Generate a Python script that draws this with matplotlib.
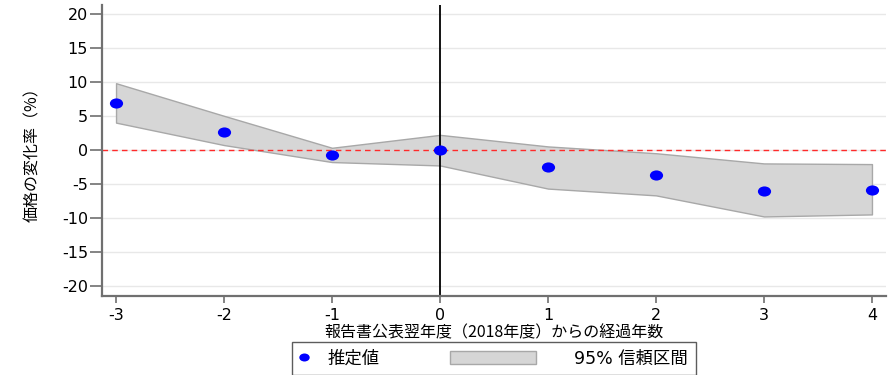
import matplotlib
matplotlib.use("Agg")
import matplotlib.pyplot as plt
import numpy as np
from matplotlib.patches import Patch, Rectangle
from matplotlib.lines import Line2D
from matplotlib.path import Path
from matplotlib.legend_handler import HandlerPatch

plt.rcParams['font.family'] = ['DejaVu Sans', 'Noto Sans CJK JP']

years = [-3, -2, -1, 0, 1, 2, 3, 4]
estimate = [6.9, 2.6, -0.7, 0.0, -2.6, -3.7, -6.0, -5.9]
ci_upper = [9.8, 5.0, 0.3, 2.2, 0.5, -0.5, -2.0, -2.1]
ci_lower = [4.0, 0.7, -1.8, -2.3, -5.7, -6.7, -9.8, -9.5]
yticks = [20, 15, 10, 5, 0, -5, -10, -15, -20]
xticks = [-3, -2, -1, 0, 1, 2, 3, 4]
legend_labels = ['推定値', '95% 信頼区間']
xlabel = '報告書公表翌年度（2018年度）からの経過年数'
ylabel = '価格の変化率（%）'

# slightly wide elliptical marker (reference dots are wider than tall)
circ = Path.unit_circle()
ell = Path(circ.vertices * np.array([1.3, 1.0]), circ.codes)

fig = plt.figure(figsize=(8.96, 3.75), dpi=100)
ax = fig.add_axes([102 / 896, 79 / 375, 784 / 896, 291 / 375])

for t in yticks:
    ax.axhline(t, color='#e8e8e8', lw=1.0, zorder=0)

ax.fill_between(years, ci_lower, ci_upper, facecolor='#d6d6d6', edgecolor='#a8a8a8', lw=1.0, zorder=1)
ax.axhline(0, color='#ff2a2a', lw=1.0, ls=(0, (4, 3)), zorder=2)
ax.axvline(0, color='black', lw=1.3, zorder=2)
ax.plot(years, estimate, ls='none', marker=ell, color='#0000ff', ms=9.5, mec='none', zorder=3)

ax.set_xlim(-3.13, 4.13)
ax.set_ylim(-21.5, 21.3)
ax.set_xticks(xticks)
ax.set_yticks(yticks)
ax.set_xticklabels([str(v) for v in xticks], fontsize=11.5)
ax.set_yticklabels([str(v) for v in yticks], fontsize=11.5)
ax.tick_params(axis='x', direction='out', length=5, width=1.2, color='#707070', pad=4)
ax.tick_params(axis='y', direction='out', length=8.5, width=1.2, color='#707070', pad=1.5)

for s in ['top', 'right']:
    ax.spines[s].set_visible(False)
for s in ['left', 'bottom']:
    ax.spines[s].set_color('#707070')
    ax.spines[s].set_linewidth(1.6)

ax.set_xlabel(xlabel, family=['Noto Sans CJK JP', 'DejaVu Sans'], fontsize=11.5)
ax.set_ylabel(ylabel, family=['Noto Sans CJK JP', 'DejaVu Sans'], fontsize=11.5)
ax.xaxis.set_label_coords(0.5, -0.098)
ax.yaxis.set_label_coords(-0.078, 0.5)


class WidePatch(HandlerPatch):
    def create_artists(self, legend, orig_handle, xdescent, ydescent, width, height, fontsize, trans):
        w = 62.0
        h = height * 1.05
        shift = 14.0
        r = Rectangle((-xdescent + width - w - shift, -ydescent + (height - h) / 2), w, h,
                      facecolor='#d6d6d6', edgecolor='#a8a8a8', lw=1.0, transform=trans)
        return [r]


handles = [Line2D([], [], marker=ell, ls='none', color='#0000ff', ms=7.5, mec='none'),
           Patch(facecolor='#d6d6d6', edgecolor='#a8a8a8')]
leg = fig.legend(handles, legend_labels, loc='center',
                 bbox_to_anchor=(292 / 896, 0.044 - 0.03, 404 / 896, 0.06), mode='expand',
                 borderaxespad=0, ncol=2, frameon=True, fancybox=False, edgecolor='#333333',
                 prop={'family': ['DejaVu Sans', 'Noto Sans CJK JP'], 'size': 12.5},
                 handlelength=0.5, handletextpad=1.1, borderpad=0.45, numpoints=1,
                 handler_map={Patch: WidePatch()})
leg.get_frame().set_linewidth(1.0)

fig.savefig('out.png', dpi=100)
